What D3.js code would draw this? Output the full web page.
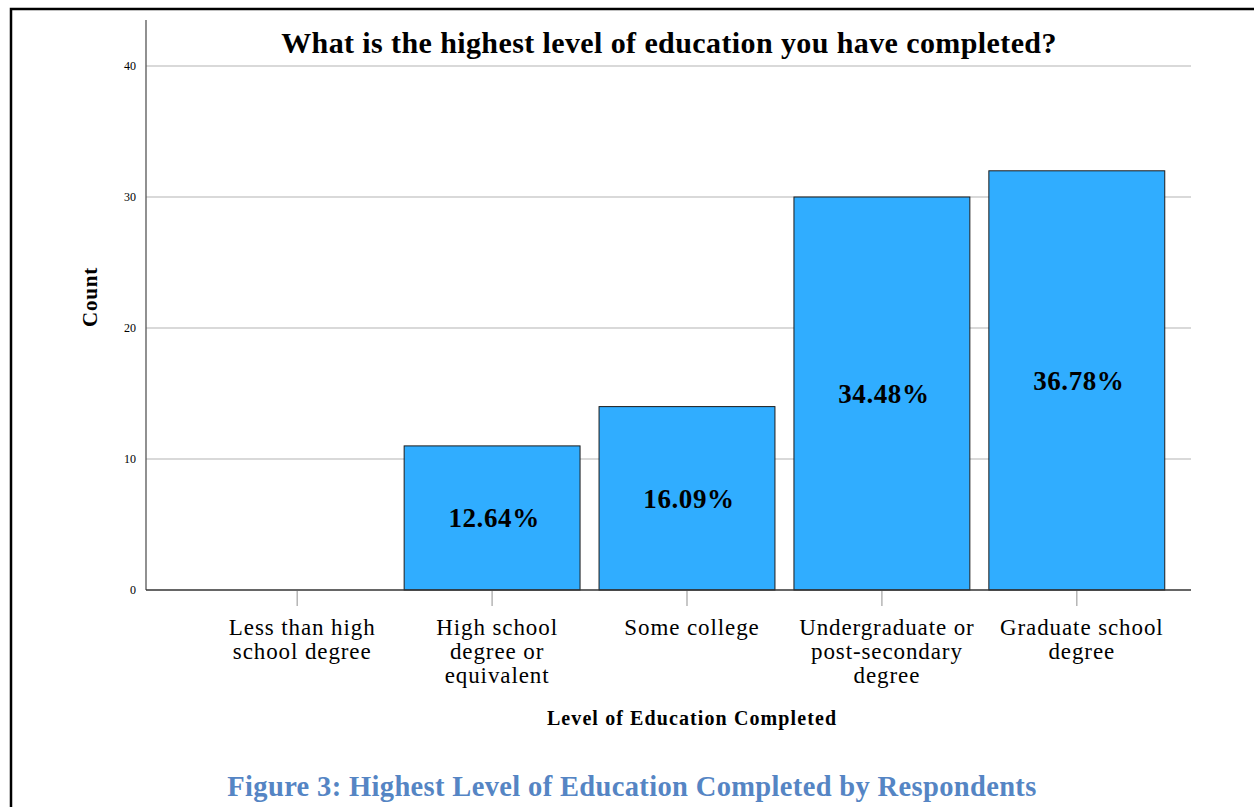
<!DOCTYPE html>
<html>
<head>
<meta charset="utf-8">
<script src="https://cdn.jsdelivr.net/npm/d3@7"></script>
<style>
  html, body { margin: 0; padding: 0; background: #fff; }
  svg { display: block; }
  text { font-family: "Liberation Serif", "Times New Roman", serif; }
</style>
</head>
<body>
<svg id="chart" width="1254" height="807"></svg>
<script>
// Education categories (each label split into lines)
const categories = [
  ["Less than high", "school degree"],
  ["High school", "degree or", "equivalent"],
  ["Some college"],
  ["Undergraduate or", "post-secondary", "degree"],
  ["Graduate school", "degree"]
];
const counts = [0, 11, 14, 30, 32];
const percentLabels = ["", "12.64%", "16.09%", "34.48%", "36.78%"];
const yTicks = [0, 10, 20, 30, 40];

const svg = d3.select("#chart");

// Outer frame (top and left edges)
svg.append("path")
  .attr("d", "M11,1254 L11,9 L1254,9")
  .attr("fill", "none").attr("stroke", "#000").attr("stroke-width", 2.5);

const plot = { left: 146, right: 1191, top: 20, bottom: 590 };
const keys = categories.map((c, i) => i);

const x = d3.scaleBand()
  .domain(keys)
  .range([199.5, 1174.5])
  .paddingInner(0.0975)
  .paddingOuter(0.05);

const y = d3.scaleLinear()
  .domain([0, 40])
  .range([plot.bottom, 66]);

// Horizontal gridlines
svg.append("g")
  .selectAll("line")
  .data(yTicks.filter(t => t > 0))
  .join("line")
  .attr("x1", plot.left).attr("x2", plot.right)
  .attr("y1", d => y(d)).attr("y2", d => y(d))
  .attr("stroke", "#b4b4b4").attr("stroke-width", 1.2);

// Y axis
const yAxis = svg.append("g")
  .attr("transform", `translate(${plot.left},0)`)
  .call(d3.axisLeft(y).tickValues(yTicks).tickSize(0).tickPadding(10));
yAxis.select(".domain").remove();
yAxis.selectAll("text")
  .attr("font-size", 12).attr("fill", "#000")
  .style("font-family", "'Liberation Serif', serif");
svg.append("line")
  .attr("x1", plot.left).attr("x2", plot.left)
  .attr("y1", plot.top).attr("y2", plot.bottom)
  .attr("stroke", "#555").attr("stroke-width", 1.3);

// Bars
svg.append("g")
  .selectAll("rect")
  .data(counts.map((v, i) => ({ i, v })).filter(d => d.v > 0))
  .join("rect")
  .attr("x", d => x(d.i))
  .attr("width", x.bandwidth())
  .attr("y", d => y(d.v))
  .attr("height", d => y(0) - y(d.v))
  .attr("fill", "#30adff")
  .attr("stroke", "#1c1c1c").attr("stroke-width", 1);

// Percentage labels centred in each bar
svg.append("g")
  .selectAll("text")
  .data(counts.map((v, i) => ({ i, v, label: percentLabels[i] })).filter(d => d.v > 0))
  .join("text")
  .attr("x", d => x(d.i) + x.bandwidth() / 2 + 2)
  .attr("y", d => (y(d.v) + y(0)) / 2)
  .attr("dy", "0.35em")
  .attr("text-anchor", "middle")
  .attr("font-size", 27).attr("font-weight", "bold")
  .attr("letter-spacing", 0.6)
  .text(d => d.label);

// X axis baseline
svg.append("line")
  .attr("x1", plot.left).attr("x2", plot.right)
  .attr("y1", plot.bottom).attr("y2", plot.bottom)
  .attr("stroke", "#333").attr("stroke-width", 1.3);

// X tick marks and category labels
const xt = svg.append("g")
  .selectAll("g")
  .data(keys)
  .join("g")
  .attr("transform", d => `translate(${x(d) + x.bandwidth() / 2},0)`);
xt.append("line")
  .attr("y1", plot.bottom + 1).attr("y2", plot.bottom + 16)
  .attr("stroke", "#aaa").attr("stroke-width", 1.3);
xt.append("text")
  .attr("text-anchor", "middle")
  .attr("font-size", 23)
  .attr("letter-spacing", 0.9)
  .selectAll("tspan")
  .data(d => categories[d])
  .join("tspan")
  .attr("x", 5)
  .attr("y", (d, j) => 635 + j * 24)
  .text(d => d);

// Chart title
svg.append("text")
  .attr("x", 669).attr("y", 53)
  .attr("text-anchor", "middle")
  .attr("font-size", 30).attr("font-weight", "bold")
  .attr("letter-spacing", 0.4)
  .text("What is the highest level of education you have completed?");

// Axis titles
svg.append("text")
  .attr("transform", "translate(97,297) rotate(-90)")
  .attr("text-anchor", "middle")
  .attr("font-size", 21).attr("font-weight", "bold")
  .attr("letter-spacing", 0.8)
  .text("Count");
svg.append("text")
  .attr("x", 692).attr("y", 725)
  .attr("text-anchor", "middle")
  .attr("font-size", 20).attr("font-weight", "bold")
  .attr("letter-spacing", 1.1)
  .text("Level of Education Completed");

// Figure caption
svg.append("text")
  .attr("x", 632).attr("y", 796)
  .attr("text-anchor", "middle")
  .attr("font-size", 28.5).attr("font-weight", "bold")
  .attr("letter-spacing", 0.35)
  .attr("fill", "#5585c4")
  .text("Figure 3: Highest Level of Education Completed by Respondents");
</script>
</body>
</html>
